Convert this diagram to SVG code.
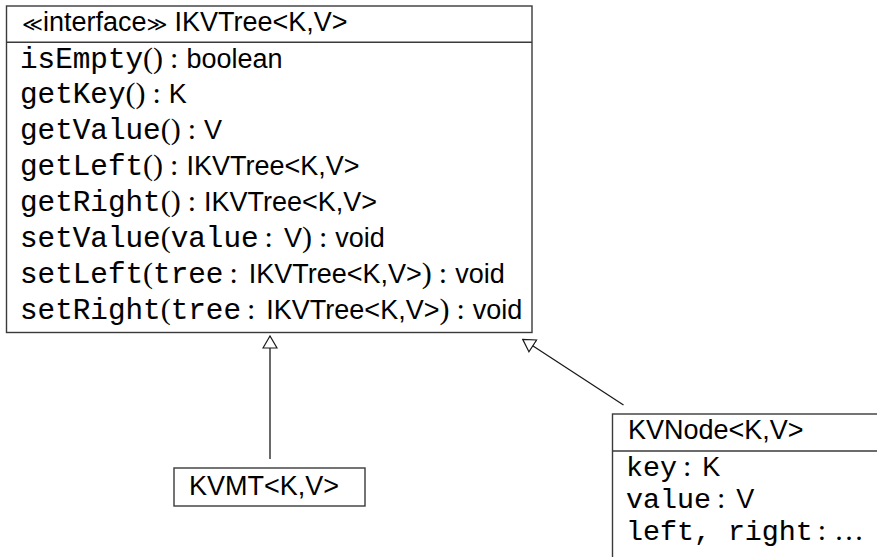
<svg xmlns="http://www.w3.org/2000/svg" width="877" height="557" viewBox="0 0 877 557">
<style>
  .box { fill: #ffffff; stroke: #3a3a3a; stroke-width: 1.4; }
  .sep { stroke: #3a3a3a; stroke-width: 1.4; }
  .tt { font-family: "Liberation Mono", "DejaVu Sans Mono", monospace; font-size: 29.3px; fill: #000; stroke: #000; stroke-width: 0.12; }
  .tts { font-family: "Liberation Mono", "DejaVu Sans Mono", monospace; font-size: 28.3px; fill: #000; stroke: #000; stroke-width: 0.12; }
  .sf { font-family: "Liberation Sans", Arial, sans-serif; font-size: 27px; fill: #000; }
  .rm { font-family: "Liberation Serif", "DejaVu Serif", serif; font-size: 30px; fill: #000; }
  .st { font-family: "DejaVu Sans", sans-serif; font-size: 20px; fill: #000; }
  .conn { fill: none; stroke: #1a1a1a; stroke-width: 1.3; }
</style>
<defs>
  <marker id="gen" viewBox="0 0 14 16" refX="13" refY="8" markerWidth="14" markerHeight="16" markerUnits="userSpaceOnUse" orient="auto">
    <path d="M1,1 L13,8 L1,15 Z" fill="#ffffff" stroke="#1a1a1a" stroke-width="1.2"/>
  </marker>
</defs>
<rect x="0" y="0" width="877" height="557" fill="#ffffff"/>

<g id="node-ikvtree">
  <rect class="box" x="6.5" y="6" width="525.5" height="326.5"/>
  <line class="sep" x1="6.5" y1="42.3" x2="532" y2="42.3"/>
  <text x="22" y="31"><tspan class="st">≪</tspan><tspan class="sf">interface</tspan><tspan class="st">≫</tspan><tspan class="sf" dx="7">IKVTree&lt;K,V&gt;</tspan></text>
  <text x="20" y="67.5"><tspan class="tt">isEmpty</tspan><tspan class="rm">()</tspan><tspan class="rm" dx="7">:</tspan><tspan class="sf" dx="8">boolean</tspan></text>
  <text x="20" y="103.4"><tspan class="tt">getKey</tspan><tspan class="rm">()</tspan><tspan class="rm" dx="7">:</tspan><tspan class="sf" dx="8">K</tspan></text>
  <text x="20" y="139.3"><tspan class="tt">getValue</tspan><tspan class="rm">()</tspan><tspan class="rm" dx="7">:</tspan><tspan class="sf" dx="8">V</tspan></text>
  <text x="20" y="175.2"><tspan class="tt">getLeft</tspan><tspan class="rm">()</tspan><tspan class="rm" dx="7">:</tspan><tspan class="sf" dx="8">IKVTree&lt;K,V&gt;</tspan></text>
  <text x="20" y="211.1"><tspan class="tt">getRight</tspan><tspan class="rm">()</tspan><tspan class="rm" dx="7">:</tspan><tspan class="sf" dx="8">IKVTree&lt;K,V&gt;</tspan></text>
  <text x="20" y="247"><tspan class="tt">setValue</tspan><tspan class="rm">(</tspan><tspan class="tt">value</tspan><tspan class="rm" dx="6">:</tspan><tspan class="sf" dx="11">V</tspan><tspan class="rm">)</tspan><tspan class="rm" dx="7">:</tspan><tspan class="sf" dx="8">void</tspan></text>
  <text x="20" y="282.9"><tspan class="tt">setLeft</tspan><tspan class="rm">(</tspan><tspan class="tt">tree</tspan><tspan class="rm" dx="6">:</tspan><tspan class="sf" dx="11">IKVTree&lt;K,V&gt;</tspan><tspan class="rm">)</tspan><tspan class="rm" dx="7">:</tspan><tspan class="sf" dx="8">void</tspan></text>
  <text x="20" y="318.8"><tspan class="tt">setRight</tspan><tspan class="rm">(</tspan><tspan class="tt">tree</tspan><tspan class="rm" dx="6">:</tspan><tspan class="sf" dx="11">IKVTree&lt;K,V&gt;</tspan><tspan class="rm">)</tspan><tspan class="rm" dx="7">:</tspan><tspan class="sf" dx="8">void</tspan></text>
</g>

<g id="node-kvmt">
  <rect class="box" x="174" y="468" width="191" height="38"/>
  <text class="sf" x="189" y="495">KVMT&lt;K,V&gt;</text>
</g>

<g id="node-kvnode">
  <rect class="box" x="612.5" y="414" width="300" height="200"/>
  <line class="sep" x1="612.5" y1="451" x2="900" y2="451"/>
  <text class="sf" x="628" y="439">KVNode&lt;K,V&gt;</text>
  <text x="626" y="476"><tspan class="tts">key</tspan><tspan class="rm" dx="6">:</tspan><tspan class="sf" dx="11">K</tspan></text>
  <text x="626" y="508"><tspan class="tts">value</tspan><tspan class="rm" dx="6">:</tspan><tspan class="sf" dx="11">V</tspan></text>
  <text x="626" y="540"><tspan class="tts">left, right</tspan><tspan class="rm" dx="5">:</tspan><tspan class="rm" dx="9" letter-spacing="2.5">...</tspan></text>
</g>

<g id="connectors">
  <path class="conn" d="M270,459 L270,336" marker-end="url(#gen)"/>
  <path class="conn" d="M623.5,405 L522.7,339.3" marker-end="url(#gen)"/>
</g>
</svg>
